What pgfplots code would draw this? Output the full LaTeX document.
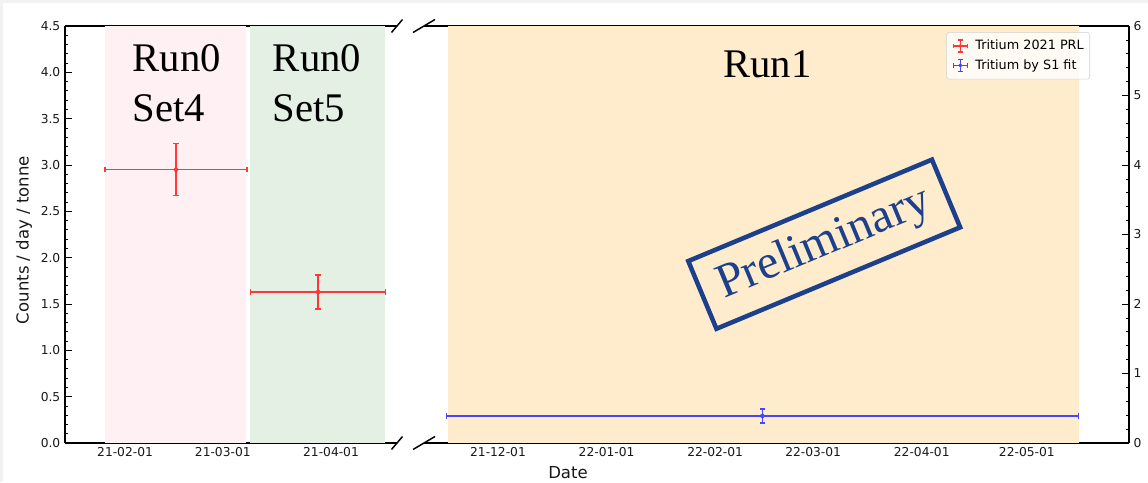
\documentclass[border=0pt]{standalone}
\usepackage{fontspec}
\setmainfont{DejaVu Sans}
\newfontfamily\tnr{Liberation Serif}
\usepackage{pgfplots}
\pgfplotsset{compat=1.18}
\definecolor{pinkfill}{RGB}{255,240,243}
\definecolor{greenfill}{RGB}{228,240,228}
\definecolor{orangefill}{RGB}{255,236,204}
\definecolor{redc}{RGB}{255,55,55}
\definecolor{bluec}{RGB}{70,70,255}
\definecolor{prelim}{RGB}{28,64,140}
\definecolor{framegray}{RGB}{242,242,242}

\pgfplotsset{
  common/.style={
    scale only axis, height=312.75pt, anchor=south west,
    tick align=inside, major tick length=5.25pt, minor tick length=2.6pt,
    every tick/.style={black, line width=0.6pt},
    axis line style={black, line width=0.8pt},
    tick label style={font=\fontsize{9.2}{11}\selectfont, text=black!90},
  },
  ebh/.style={#1, line width=1.2pt, mark=|, mark size=2pt, mark options={solid, line width=1.1pt}, forget plot},
  ebv/.style={#1, line width=1.2pt, mark=-, mark size=2pt, mark options={solid, line width=1.1pt}, forget plot},
  ebc/.style={#1, only marks, mark=*, mark size=1.5pt, mark options={fill=#1, draw=#1}, forget plot},
  errleg/.style={legend image code/.code={
    \path[draw=none, fill=none] (0pt,-5pt) rectangle (17pt,5pt);
    \draw[#1, line width=1.1pt] (3pt,0pt)--(13.5pt,0pt) (8.25pt,-4.5pt)--(8.25pt,4.5pt);
    \draw[#1, line width=1.1pt] (3pt,-1.6pt)--(3pt,1.6pt) (13.5pt,-1.6pt)--(13.5pt,1.6pt)
       (6.6pt,-4.5pt)--(9.9pt,-4.5pt) (6.6pt,4.5pt)--(9.9pt,4.5pt);
    \fill[#1] (8.25pt,0pt) circle (1.3pt);}},
}

\begin{document}
\begin{tikzpicture}
\useasboundingbox (0,0) rectangle (861pt,361.5pt);
\fill[white] (0,0) rectangle (861pt,361.5pt);
\fill[framegray] (0,359pt) rectangle (861pt,361.5pt);
\fill[framegray] (0,0) rectangle (2.5pt,361.5pt);

% left part (Run0)
\begin{axis}[common,
  at={(48.75pt,29.25pt)}, width=249pt,
  xmin=13.8, xmax=108.9, ymin=0, ymax=4.5,
  axis y line*=left,
  xtick={31,59,90}, xticklabels={21-02-01,21-03-01,21-04-01},
  ytick={0,0.5,1,1.5,2,2.5,3,3.5,4,4.5},
  yticklabels={0.0,0.5,1.0,1.5,2.0,2.5,3.0,3.5,4.0,4.5},
  minor y tick num=4,
]
\addplot[draw=none, fill=pinkfill, forget plot] coordinates {(25.3,0) (25.3,4.5) (65.7,4.5) (65.7,0)} -- cycle;
\addplot[draw=none, fill=greenfill, forget plot] coordinates {(66.8,0) (66.8,4.5) (105.5,4.5) (105.5,0)} -- cycle;
% Run0 Set4: 2.95 +- 0.28
\addplot[ebh=redc] coordinates {(25.3,2.95) (65.9,2.95)};
\addplot[ebv=redc] coordinates {(45.6,2.67) (45.6,3.23)};
\addplot[ebc=redc] coordinates {(45.6,2.95)};
% Run0 Set5: 1.63 +- 0.185
\addplot[ebh=redc] coordinates {(67.0,1.63) (105.6,1.63)};
\addplot[ebv=redc] coordinates {(86.3,1.445) (86.3,1.815)};
\addplot[ebc=redc] coordinates {(86.3,1.63)};
\end{axis}

% right part (Run1)
\begin{axis}[common,
  at={(318pt,29.25pt)}, width=528.75pt,
  xmin=312.87, xmax=514.18, ymin=0, ymax=6,
  axis y line*=right,
  xtick={334,365,396,424,455,485},
  xticklabels={21-12-01,22-01-01,22-02-01,22-03-01,22-04-01,22-05-01},
  ytick={0,1,2,3,4,5,6}, yticklabels={0,1,2,3,4,5,6},
  minor y tick num=4,
  legend cell align=left,
  legend style={at={(0.9447,0.9856)}, anchor=north east,
    draw=gray!35, rounded corners=2pt, fill=white, fill opacity=0.8, text opacity=1,
    font=\fontsize{9.6}{11}\selectfont, inner xsep=2pt, inner ysep=3pt,
    nodes={inner ysep=2.9pt, inner xsep=2.5pt}, row sep=0pt},
]
\addplot[draw=none, fill=orangefill, forget plot] coordinates {(319.6,0) (319.6,6) (499.9,6) (499.9,0)} -- cycle;
% S1 fit: 0.39 +- 0.10
\addplot[ebh=bluec] coordinates {(319.3,0.39) (499.7,0.39)};
\addplot[ebv=bluec] coordinates {(409.5,0.29) (409.5,0.49)};
\addplot[ebc=bluec] coordinates {(409.5,0.39)};
\addlegendimage{errleg=redc}
\addlegendentry{Tritium 2021 PRL}
\addlegendimage{errleg=bluec}
\addlegendentry{Tritium by S1 fit}
\end{axis}

\begin{scope}[x=0.75pt, y=0.75pt]
\tikzset{runlab/.style={anchor=base west, inner sep=0pt, font=\tnr\fontsize{30.5}{36}\selectfont}}
\node[runlab] at (132.3,410.3) {Run0};
\node[runlab] at (132.3,360.3) {Set4};
\node[runlab] at (272.7,410.3) {Run0};
\node[runlab] at (272.7,360.3) {Set5};
\node[runlab] at (723,404) {Run1};
\node[draw=prelim, text=prelim, line width=3.4pt, rotate=22.6,
      minimum width=198pt, minimum height=55pt, inner sep=0pt,
      font=\tnr\fontsize{36}{40}\selectfont] at (824.2,237.8) {Preliminary};
\node[rotate=90, font=\fontsize{12.4}{14}\selectfont, text=black!90] at (24,242) {Counts / day / tonne};
\node[font=\fontsize{12.4}{14}\selectfont, text=black!90] at (568,9) {Date};
% break marks
\draw[black, line width=1.1pt] (391.5,32.5)--(402.5,45.5) (413,32.5)--(435,45.5);
\draw[black, line width=1.1pt] (391.5,449.5)--(402.5,462.5) (413,449.5)--(435,462.5);
\end{scope}
\end{tikzpicture}
\end{document}
